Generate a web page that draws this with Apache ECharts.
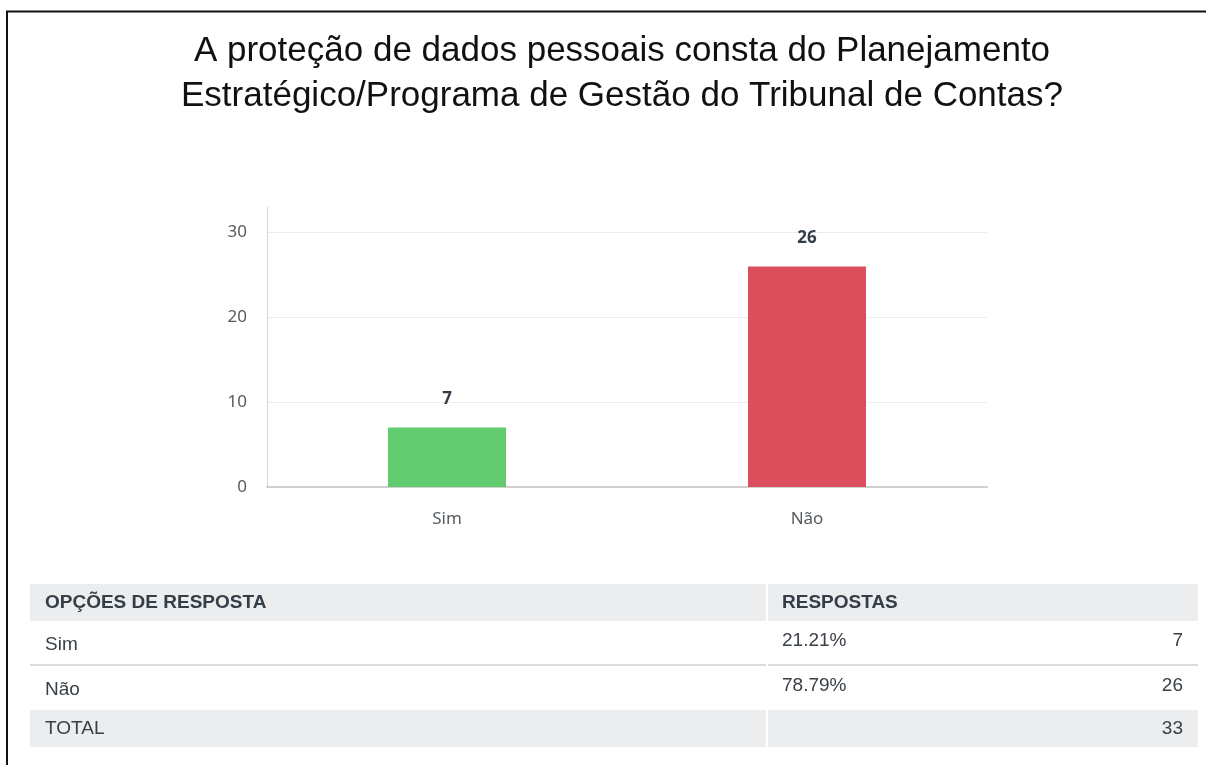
<!DOCTYPE html>
<html>
<head>
<meta charset="utf-8">
<script src="https://cdn.jsdelivr.net/npm/echarts@6/dist/echarts.min.js"></script>
<style>
  html, body { margin: 0; padding: 0; background: #fff; }
  #chart { width: 1206px; height: 765px; }
</style>
</head>
<body>
<div id="chart"></div>
<script>
// dados do gráfico
const categorias = ['Sim', 'Não']
const respostas = [7, 26]
const percentuais = ['21.21%', '78.79%']
const total = 33
const barColors = ['#62cb70', '#db4f5c']

const myChart = echarts.init(document.getElementById('chart'))

const textColor = '#333e48'
const rowColor = '#3a4047'
const tableFont = '"Liberation Sans", Arial, sans-serif'
const axisFont = '"Noto Sans", sans-serif'

// tabela abaixo do gráfico
const tableGraphics = []
const headFill = '#ecedee'
tableGraphics.push(
  { type: 'rect', shape: { x: 30, y: 584, width: 736, height: 37 }, style: { fill: headFill } },
  { type: 'rect', shape: { x: 768, y: 584, width: 430, height: 37 }, style: { fill: headFill } },
  { type: 'rect', shape: { x: 30, y: 710, width: 736, height: 37 }, style: { fill: headFill } },
  { type: 'rect', shape: { x: 768, y: 710, width: 430, height: 37 }, style: { fill: headFill } },
  { type: 'line', shape: { x1: 30, y1: 665, x2: 766, y2: 665 }, style: { stroke: '#dcdddf', lineWidth: 2 } },
  { type: 'line', shape: { x1: 768, y1: 665, x2: 1198, y2: 665 }, style: { stroke: '#dcdddf', lineWidth: 2 } },
  { type: 'text', style: { text: 'OPÇÕES DE RESPOSTA', x: 45, y: 603, font: 'bold 19px ' + tableFont, fill: textColor, verticalAlign: 'middle' } },
  { type: 'text', style: { text: 'RESPOSTAS', x: 782, y: 603, font: 'bold 19px ' + tableFont, fill: textColor, verticalAlign: 'middle' } },
  { type: 'text', style: { text: 'TOTAL', x: 45, y: 729, font: '19px ' + tableFont, fill: rowColor, verticalAlign: 'middle' } },
  { type: 'text', style: { text: String(total), x: 1183, y: 729, font: '19px ' + tableFont, fill: rowColor, align: 'right', verticalAlign: 'middle' } }
)
const rowY = [641, 686]
categorias.forEach((cat, i) => {
  tableGraphics.push(
    { type: 'text', style: { text: cat, x: 45, y: rowY[i] + 4, font: '19px ' + tableFont, fill: rowColor, verticalAlign: 'middle' } },
    { type: 'text', style: { text: percentuais[i], x: 782, y: rowY[i], font: '19px ' + tableFont, fill: rowColor, verticalAlign: 'middle' } },
    { type: 'text', style: { text: String(respostas[i]), x: 1183, y: rowY[i], font: '19px ' + tableFont, fill: rowColor, align: 'right', verticalAlign: 'middle' } }
  )
})
// moldura (esquerda e topo)
tableGraphics.push(
  { type: 'polyline', shape: { points: [[7, 765], [7, 11.5], [1206, 11.5]] }, style: { stroke: '#111', lineWidth: 2, fill: null } }
)

const option = {
  backgroundColor: '#fff',
  animation: false,
  title: {
    text: 'A proteção de dados pessoais consta do Planejamento\nEstratégico/Programa de Gestão do Tribunal de Contas?',
    left: 617,
    top: 24,
    textAlign: 'center',
    textStyle: {
      fontFamily: tableFont,
      fontSize: 35,
      fontWeight: 'normal',
      lineHeight: 45,
      color: '#111'
    }
  },
  grid: { left: 267, right: 219, top: 207, bottom: 278 },
  xAxis: {
    type: 'category',
    data: categorias,
    axisTick: { show: false },
    axisLine: { lineStyle: { color: '#d0d0d0', width: 2 } },
    axisLabel: { margin: 24, fontSize: 17, color: '#555b61', fontFamily: axisFont }
  },
  yAxis: {
    type: 'value',
    min: 0,
    max: 33,
    interval: 10,
    axisLine: { show: true, lineStyle: { color: '#d4d4d4', width: 1 } },
    axisTick: { show: false },
    axisLabel: { showMaxLabel: false, margin: 20, padding: [4, 0, 0, 0], fontSize: 17, color: '#555b61', fontFamily: axisFont },
    splitLine: { showMaxLine: false, lineStyle: { color: '#ededed' } }
  },
  series: [
    {
      type: 'bar',
      data: respostas.map((v, i) => ({ value: v, itemStyle: { color: barColors[i] } })),
      barWidth: 118,
      label: {
        show: true,
        position: 'top',
        distance: 20,
        fontSize: 17,
        fontWeight: 'bold',
        color: textColor,
        fontFamily: axisFont
      }
    }
  ],
  graphic: tableGraphics
}
myChart.setOption(option)
</script>
</body>
</html>
